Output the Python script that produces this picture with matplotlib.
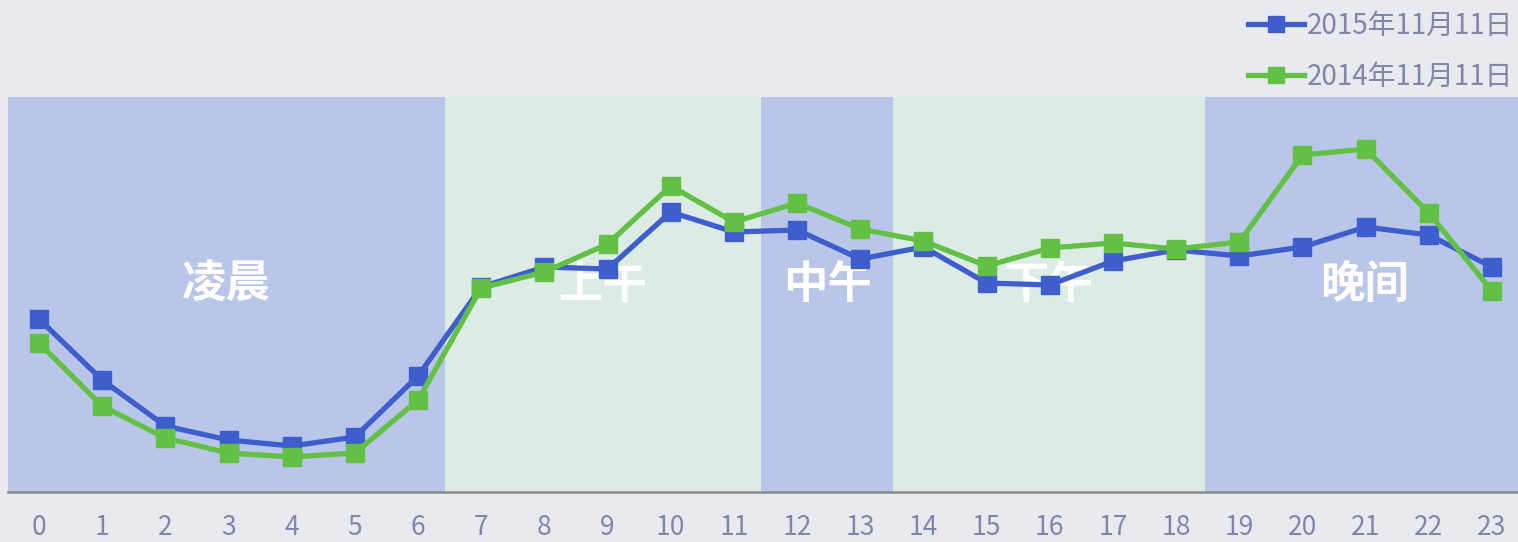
import matplotlib
matplotlib.use("Agg")
import matplotlib.pyplot as plt

plt.rcParams['font.family'] = ['Noto Sans CJK SC', 'DejaVu Sans']

hours = list(range(24))
hour_labels = [str(h) for h in hours]
series_2015 = [173, 112, 66, 52, 46, 55, 116, 205, 225, 223, 280, 260, 262, 233, 245, 209, 207, 231, 242, 236, 245, 265, 257, 225]
series_2014 = [149, 86, 54, 39, 35, 39, 92, 204, 220, 248, 306, 270, 289, 263, 251, 226, 244, 249, 243, 250, 337, 343, 279, 201]
labels_series = ['2015年11月11日', '2014年11月11日']

period_names = ['凌晨', '上午', '中午', '下午', '晚间']
period_edges = [-0.5, 6.42, 11.43, 13.52, 18.46, 23.5]
period_colors = ['#b9c6ea', '#ddebe5', '#b9c6ea', '#ddebe5', '#b9c6ea']

bg = '#e9eaf0'
fig = plt.figure(figsize=(15.18, 5.42), dpi=100, facecolor=bg)
ax = fig.add_axes([8/1518, 50/542, 1510/1518, 395/542])
ax.set_facecolor(bg)

xmin = -31/63.17
xmax = 23 + 26/63.17
ax.set_xlim(xmin, xmax)
ax.set_ylim(0, 395)

for i, name in enumerate(period_names):
    a, b = period_edges[i], period_edges[i+1]
    ax.axvspan(a, b, color=period_colors[i], zorder=0, lw=0)
    ax.text((a + b) / 2, 207, name, ha='center', va='center',
            color='white', fontsize=32, fontweight='bold', zorder=1)

ax.plot(hours, series_2015, color='#3d5ecc', lw=3.8, marker='s', markersize=13.5,
        label=labels_series[0], zorder=3, solid_joinstyle='miter')
ax.plot(hours, series_2014, color='#62c145', lw=3.8, marker='s', markersize=13.5,
        label=labels_series[1], zorder=4, solid_joinstyle='miter')

ax.set_xticks(hours)
ax.set_xticklabels(hour_labels)
ax.tick_params(axis='x', length=0, pad=16, labelsize=19, labelcolor='#7f87a8')
ax.set_yticks([])
for s in ['top', 'right', 'left']:
    ax.spines[s].set_visible(False)
ax.spines['bottom'].set_color('#8a8a8a')
ax.spines['bottom'].set_linewidth(1.8)
ax.spines['bottom'].set_zorder(5)

leg = fig.legend(loc='upper right', bbox_to_anchor=(1.004, 1.0), frameon=False,
                 fontsize=20, labelcolor='#7f87a8', handlelength=2.0,
                 handletextpad=0.1, labelspacing=0.75, borderaxespad=0.0)
for line in leg.get_lines():
    line.set_markersize(11)

fig.savefig('out.png', dpi=100, facecolor=bg)
